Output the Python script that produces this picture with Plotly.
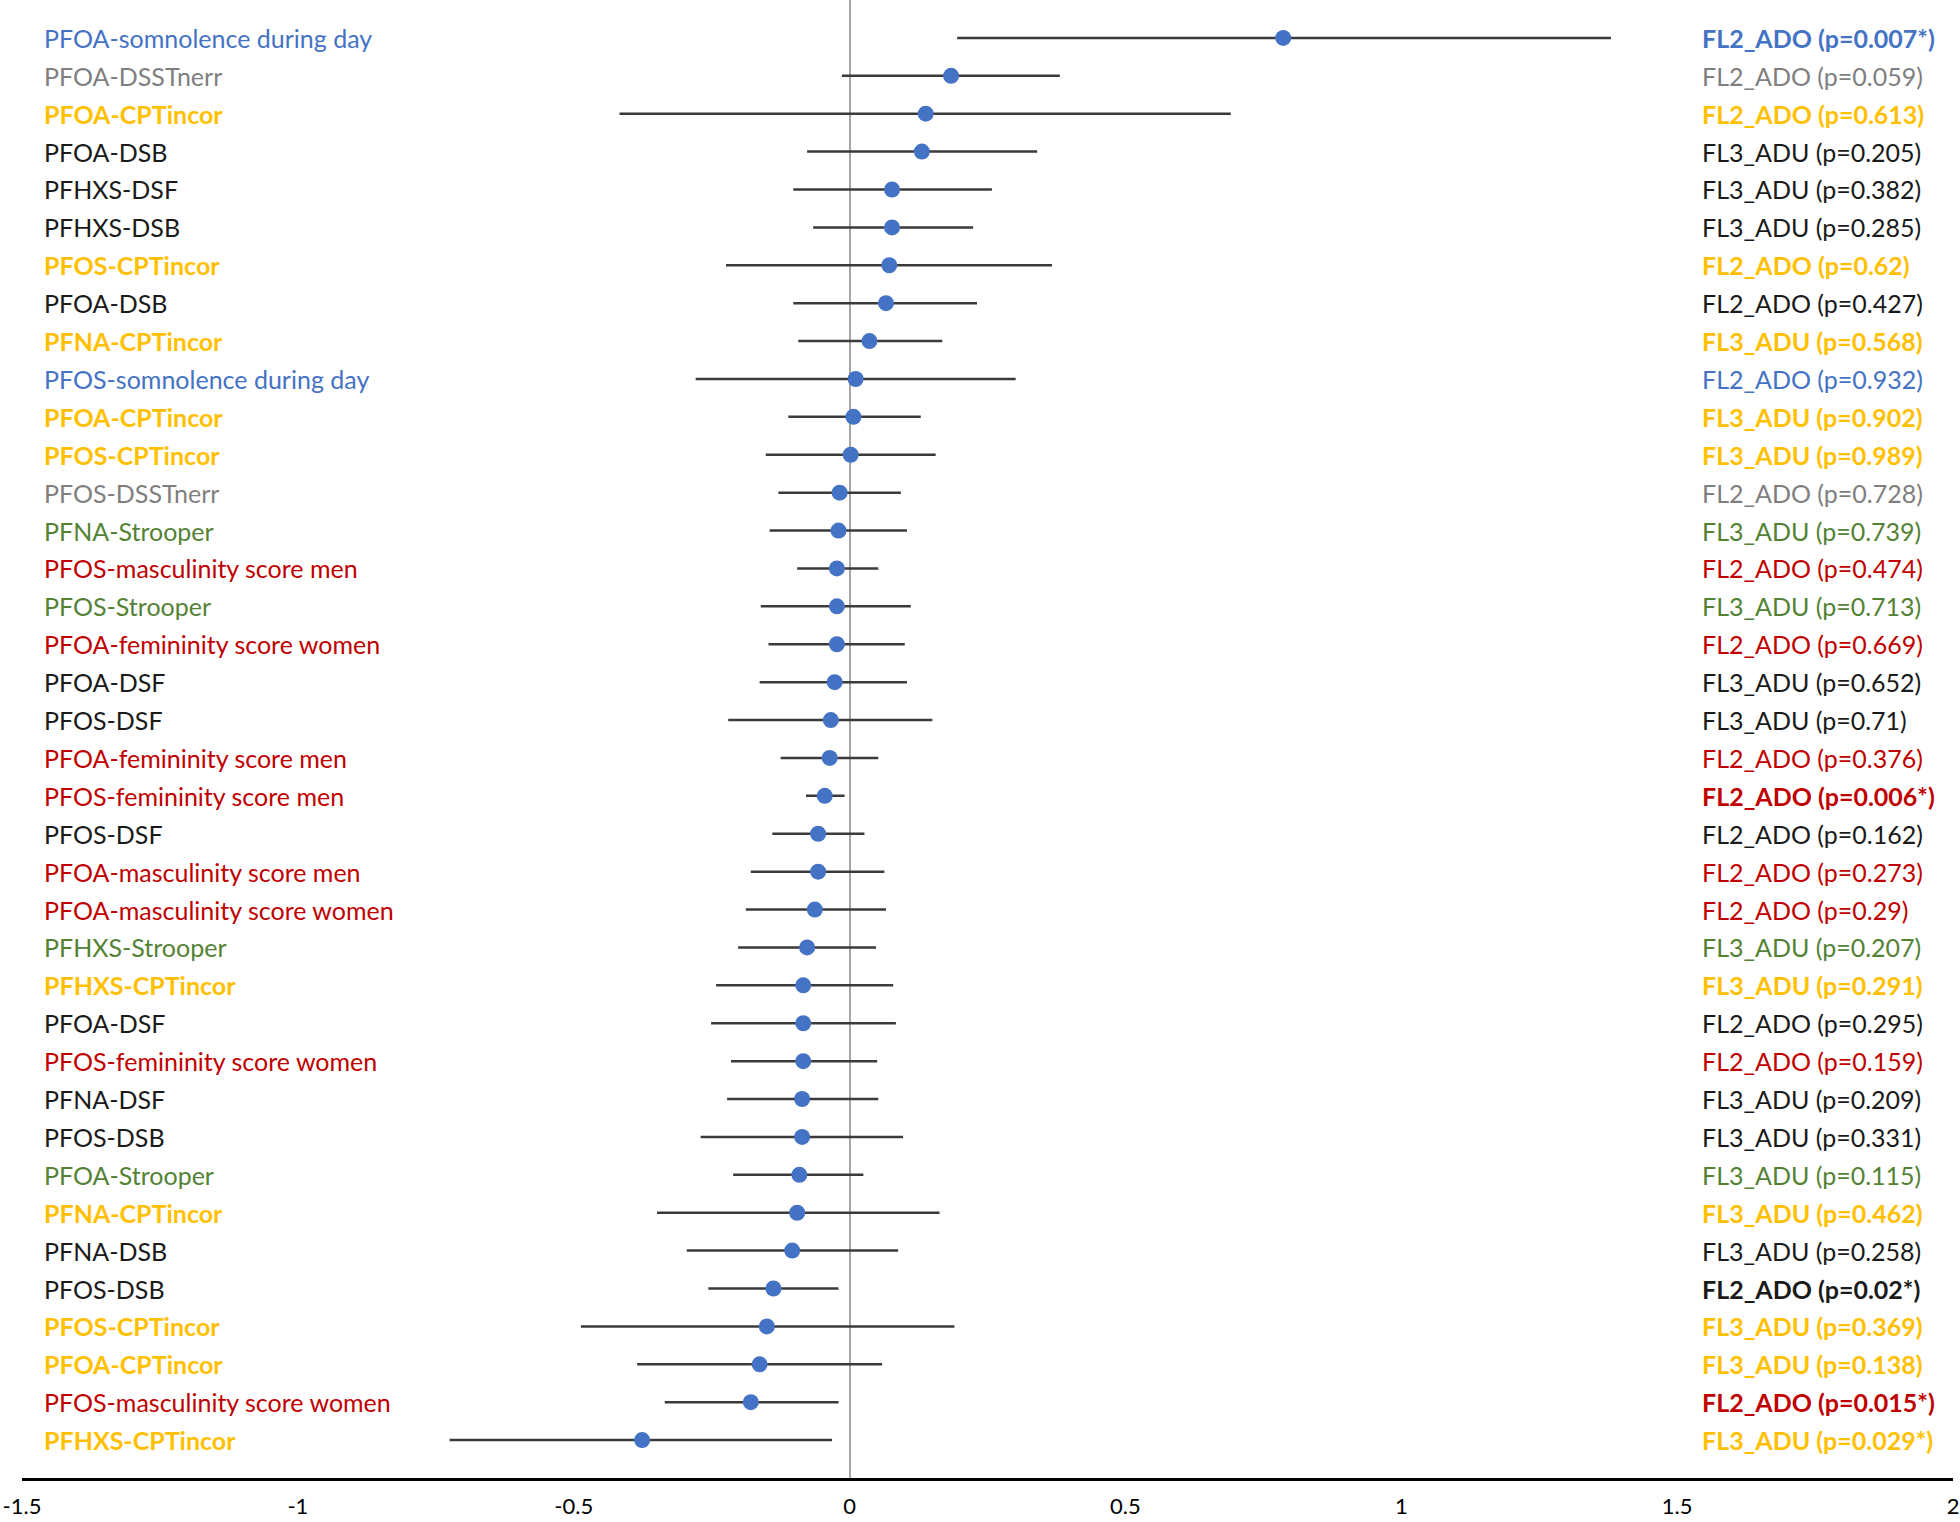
import plotly.graph_objects as go

# Rows listed top to bottom
exposures = ["PFOA", "PFOA", "PFOA", "PFOA", "PFHXS", "PFHXS", "PFOS", "PFOA", "PFNA", "PFOS",
             "PFOA", "PFOS", "PFOS", "PFNA", "PFOS", "PFOS", "PFOA", "PFOA", "PFOS", "PFOA",
             "PFOS", "PFOS", "PFOA", "PFOA", "PFHXS", "PFHXS", "PFOA", "PFOS", "PFNA", "PFOS",
             "PFOA", "PFNA", "PFNA", "PFOS", "PFOS", "PFOA", "PFOS", "PFHXS"]
outcomes = ["somnolence during day", "DSSTnerr", "CPTincor", "DSB", "DSF", "DSB", "CPTincor", "DSB",
            "CPTincor", "somnolence during day", "CPTincor", "CPTincor", "DSSTnerr", "Strooper",
            "masculinity score men", "Strooper", "femininity score women", "DSF", "DSF",
            "femininity score men", "femininity score men", "DSF", "masculinity score men",
            "masculinity score women", "Strooper", "CPTincor", "DSF", "femininity score women",
            "DSF", "DSB", "Strooper", "CPTincor", "DSB", "DSB", "CPTincor", "CPTincor",
            "masculinity score women", "CPTincor"]
waves = ["FL2_ADO", "FL2_ADO", "FL2_ADO", "FL3_ADU", "FL3_ADU", "FL3_ADU", "FL2_ADO", "FL2_ADO",
         "FL3_ADU", "FL2_ADO", "FL3_ADU", "FL3_ADU", "FL2_ADO", "FL3_ADU", "FL2_ADO", "FL3_ADU",
         "FL2_ADO", "FL3_ADU", "FL3_ADU", "FL2_ADO", "FL2_ADO", "FL2_ADO", "FL2_ADO", "FL2_ADO",
         "FL3_ADU", "FL3_ADU", "FL2_ADO", "FL2_ADO", "FL3_ADU", "FL3_ADU", "FL3_ADU", "FL3_ADU",
         "FL3_ADU", "FL2_ADO", "FL3_ADU", "FL3_ADU", "FL2_ADO", "FL3_ADU"]
pvalues = ["0.007*", "0.059", "0.613", "0.205", "0.382", "0.285", "0.62", "0.427", "0.568", "0.932",
           "0.902", "0.989", "0.728", "0.739", "0.474", "0.713", "0.669", "0.652", "0.71", "0.376",
           "0.006*", "0.162", "0.273", "0.29", "0.207", "0.291", "0.295", "0.159", "0.209", "0.331",
           "0.115", "0.462", "0.258", "0.02*", "0.369", "0.138", "0.015*", "0.029*"]
estimate = [0.786, 0.184, 0.138, 0.131, 0.077, 0.077, 0.072, 0.066, 0.036, 0.011,
            0.007, 0.002, -0.018, -0.020, -0.023, -0.023, -0.023, -0.027, -0.034, -0.036,
            -0.045, -0.057, -0.057, -0.063, -0.077, -0.084, -0.084, -0.084, -0.086, -0.086,
            -0.091, -0.095, -0.104, -0.138, -0.150, -0.163, -0.179, -0.376]
lower = [0.195, -0.014, -0.417, -0.077, -0.102, -0.066, -0.224, -0.102, -0.093, -0.279,
         -0.111, -0.152, -0.129, -0.145, -0.095, -0.161, -0.147, -0.163, -0.220, -0.125,
         -0.079, -0.140, -0.179, -0.188, -0.202, -0.242, -0.251, -0.215, -0.222, -0.270,
         -0.211, -0.349, -0.295, -0.256, -0.487, -0.385, -0.335, -0.725]
upper = [1.380, 0.381, 0.691, 0.340, 0.258, 0.224, 0.367, 0.231, 0.168, 0.301,
         0.129, 0.156, 0.093, 0.104, 0.052, 0.111, 0.100, 0.104, 0.150, 0.052,
         -0.009, 0.027, 0.063, 0.066, 0.048, 0.079, 0.084, 0.050, 0.052, 0.097,
         0.025, 0.163, 0.088, -0.020, 0.190, 0.059, -0.020, -0.032]
xticks = [-1.5, -1, -0.5, 0, 0.5, 1, 1.5, 2]

outcome_colors = {
    "somnolence during day": "#4472C4",
    "DSSTnerr": "#7F7F7F",
    "CPTincor": "#FFC000",
    "DSB": "#1a1a1a",
    "DSF": "#1a1a1a",
    "Strooper": "#548235",
    "masculinity score men": "#C00000",
    "masculinity score women": "#C00000",
    "femininity score men": "#C00000",
    "femininity score women": "#C00000",
}

n = len(estimate)
ypos = [n - i for i in range(n)]
err_plus = [u - e for u, e in zip(upper, estimate)]
err_minus = [e - l for e, l in zip(estimate, lower)]

fig = go.Figure()
fig.add_trace(go.Scatter(
    x=estimate, y=ypos, mode="markers",
    marker=dict(color="#4472C4", size=16, line=dict(width=0)),
    error_x=dict(type="data", symmetric=False, array=err_plus, arrayminus=err_minus,
                 color="#3a3a3a", thickness=2.5, width=0),
    showlegend=False, hoverinfo="skip",
))

annotations = []
FONT = "Lato, Open Sans, sans-serif"
for i in range(n):
    col = outcome_colors[outcomes[i]]
    left = f"{exposures[i]}-{outcomes[i]}"
    right = f"{waves[i]} (p={pvalues[i]})"
    bold_left = outcomes[i] == "CPTincor"
    bold_right = bold_left or pvalues[i].endswith("*")
    if bold_left:
        left = f"<b>{left}</b>"
    if bold_right:
        right = f"<b>{right}</b>"
    annotations.append(dict(x=0.0105, xref="paper", y=ypos[i], yref="y", text=left,
                            showarrow=False, xanchor="left", yanchor="middle",
                            font=dict(family=FONT, size=25, color=col)))
    annotations.append(dict(x=0.869, xref="paper", y=ypos[i], yref="y", text=right,
                            showarrow=False, xanchor="left", yanchor="middle",
                            font=dict(family=FONT, size=25, color=col)))

fig.update_layout(
    width=1960, height=1522,
    margin=dict(l=22, r=7, t=0, b=44),
    paper_bgcolor="white", plot_bgcolor="white",
    annotations=annotations,
    xaxis=dict(range=[-1.5, 2], tickvals=xticks, ticktext=[f"{v:g}" for v in xticks],
               showgrid=False, zeroline=True, zerolinecolor="#A6A6A6", zerolinewidth=1.5,
               showline=True, linecolor="black", linewidth=3, ticks="",
               ticklabelstandoff=7, automargin=False,
               tickfont=dict(family=FONT, size=22, color="black")),
    yaxis=dict(range=[0, n + 1], showgrid=False, zeroline=False, showticklabels=False,
               showline=False, ticks=""),
)

fig.write_html("out.html", config={"displayModeBar": False},
               post_script="document.body.style.margin='0';")
